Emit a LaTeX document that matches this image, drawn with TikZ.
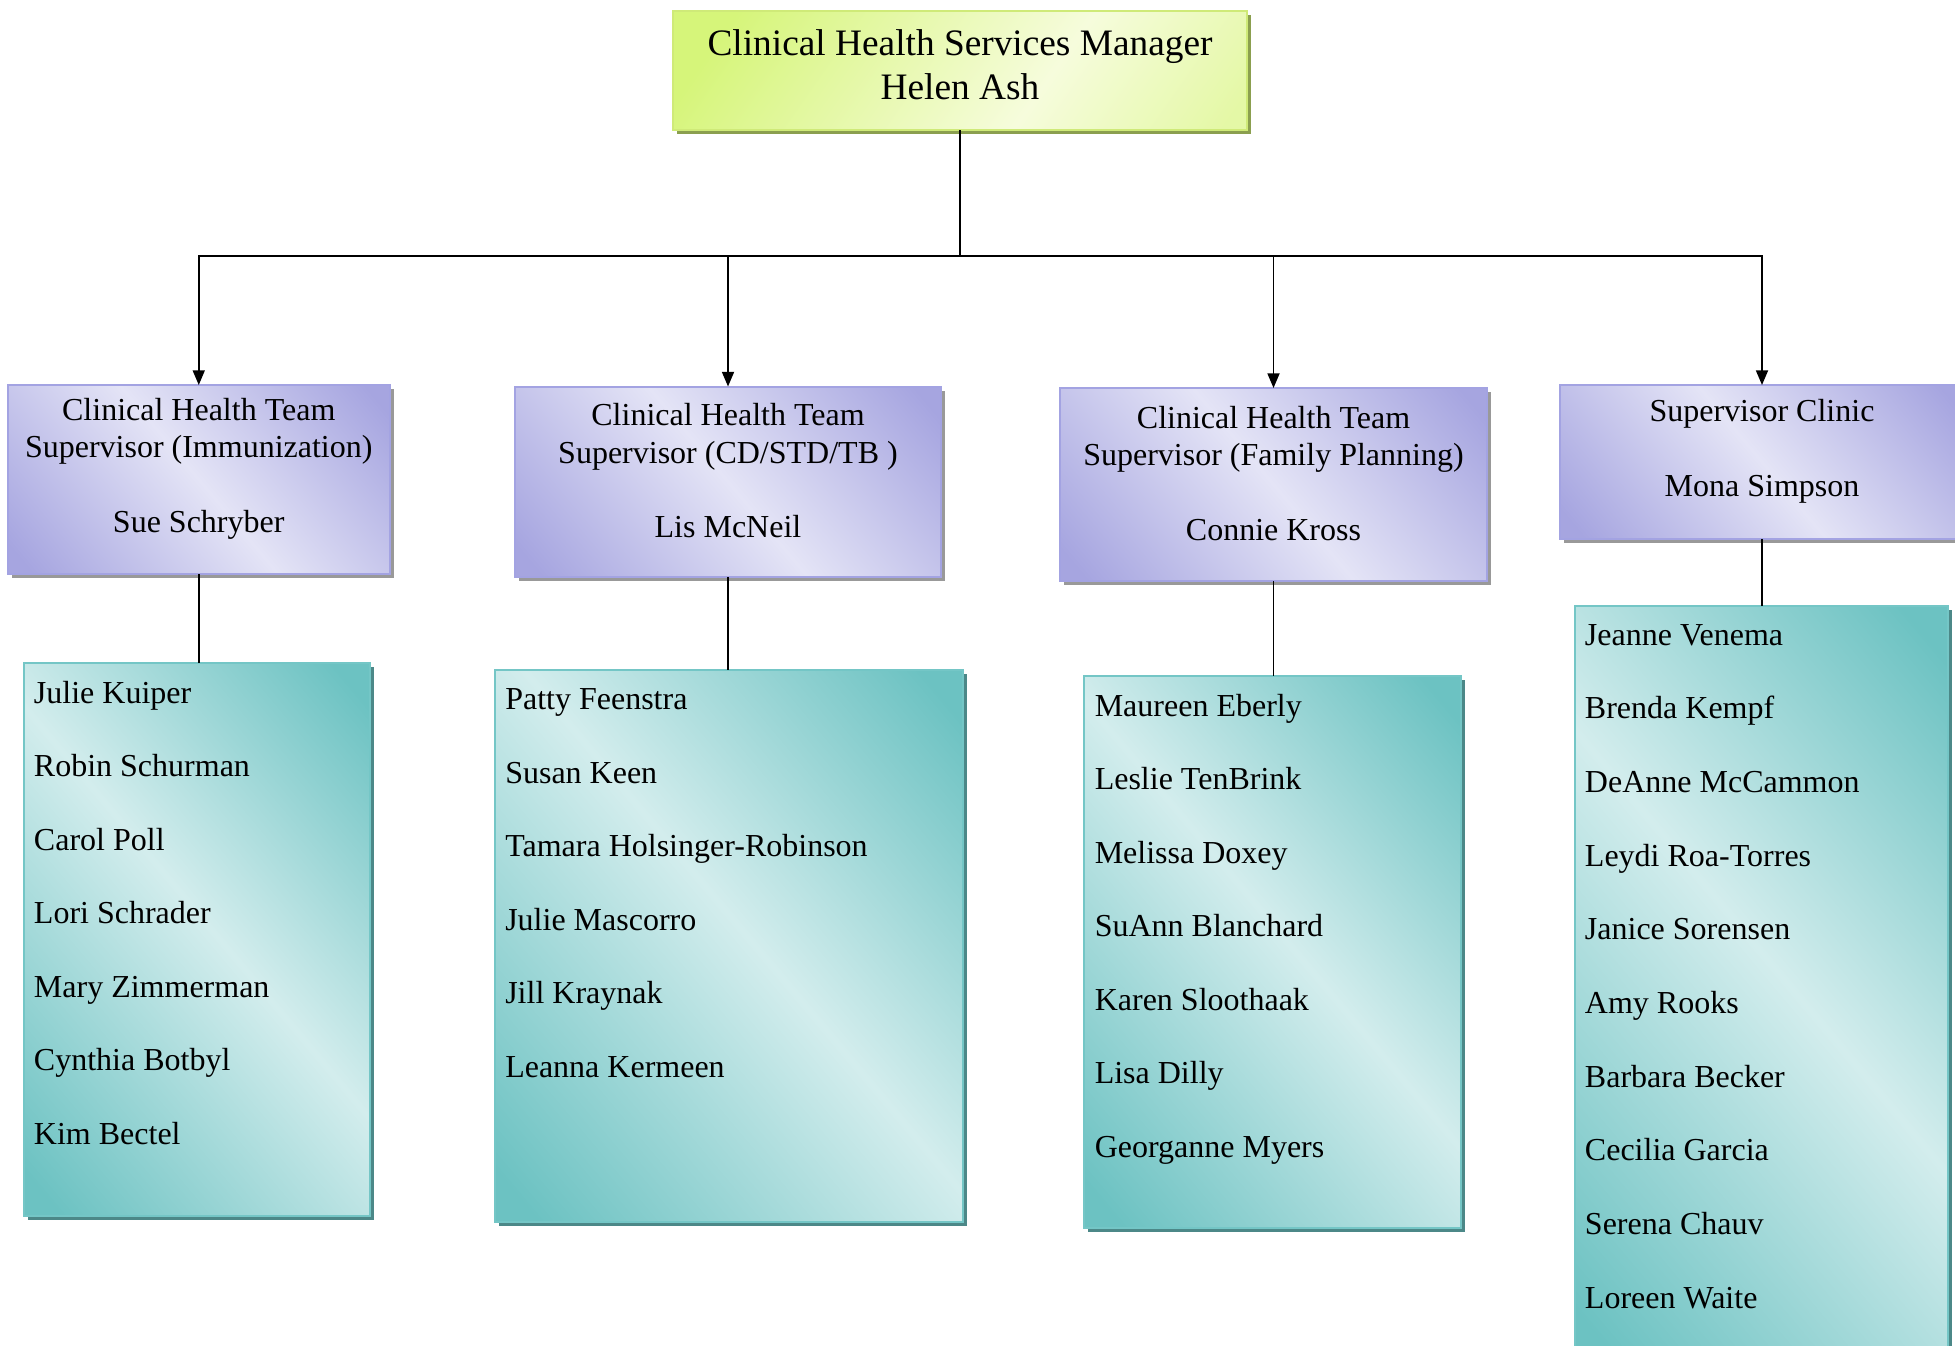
\documentclass[tikz,border=0pt]{standalone}
\usepackage{fontspec}
\setmainfont{Liberation Serif}
\usetikzlibrary{arrows.meta,calc,shadows}

\definecolor{limedark}{HTML}{D6F57A}
\definecolor{limelight}{HTML}{F6FCDC}
\definecolor{limeedge}{HTML}{CFEA78}
\definecolor{lavdark}{HTML}{A6A5E0}
\definecolor{lavlight}{HTML}{E4E4F6}
\definecolor{lavedge}{HTML}{A3A3E2}
\definecolor{tealdark}{HTML}{6CC2C2}
\definecolor{teallight}{HTML}{D3EDED}
\definecolor{tealedge}{HTML}{74C6C6}

\pgfdeclarehorizontalshading{limeband}{100bp}{color(0bp)=(limedark); color(22bp)=(limedark); color(60bp)=(limelight); color(82bp)=(limedark!55!limelight); color(100bp)=(limedark!55!limelight)}
\pgfdeclarehorizontalshading{lavband}{100bp}{color(0bp)=(lavdark); color(18bp)=(lavdark); color(50bp)=(lavlight); color(82bp)=(lavdark); color(100bp)=(lavdark)}
\pgfdeclarehorizontalshading{tealband}{100bp}{color(0bp)=(tealdark); color(18bp)=(tealdark); color(52bp)=(teallight); color(82bp)=(tealdark); color(100bp)=(tealdark)}

\begin{document}
\begin{tikzpicture}[x=0.75pt,y=0.75pt,yscale=-1,xscale=1,
    boxsize/.style 2 args={minimum width=#1*0.75pt, minimum height=#2*0.75pt},
    orgbox/.style={rectangle, anchor=north west, inner sep=0pt, outer sep=0pt, line width=1.5pt},
    mgrbox/.style={orgbox, draw=limeedge, shading=limeband, shading angle=-35,
        drop shadow={shadow xshift=3pt, shadow yshift=-3pt, fill=black!35!limedark, opacity=1}},
    supbox/.style={orgbox, draw=lavedge, shading=lavband, shading angle=40,
        drop shadow={shadow xshift=3pt, shadow yshift=-3pt, fill=black!40, opacity=1}},
    teambox/.style={orgbox, draw=tealedge, shading=tealband, shading angle=40,
        drop shadow={shadow xshift=3pt, shadow yshift=-3pt, fill=black!30!tealdark, opacity=1}},
    mgrtext/.style={align=center, inner sep=0pt, font=\fontsize{28}{32.7}\selectfont},
    suptext/.style={align=center, inner sep=0pt, font=\fontsize{24}{28}\selectfont},
    nametext/.style={anchor=base west, inner sep=0pt, font=\fontsize{24}{28}\selectfont},
    conn/.style={line width=1.3pt, -{Triangle[length=11pt,width=9pt]}},
    link/.style={line width=1.3pt}]
    \useasboundingbox (0,0) rectangle (1955,1345);

    %Shape: Rectangle [manager]
    \node [mgrbox, boxsize={574}{119}] (mgr) at (673,11) {};
    % Text Node
    \node [mgrtext] (mgr-txt) at ($(mgr.center)+(0,-6)$) {Clinical Health Services Manager\\Helen Ash};

    %Shape: Rectangle [supervisors]
    \node [supbox, boxsize={382.5}{189}] (sup1) at (7.5,385) {};
    \node [supbox, boxsize={426}{190.5}] (sup2) at (515,386.5) {};
    \node [supbox, boxsize={427}{193}] (sup3) at (1060,388) {};
    \node [supbox, boxsize={404}{154}] (sup4) at (1560,385) {};
    % Text Node
    \node [suptext] (sup1-txt) at ($(sup1.center)+(0,-11)$) {Clinical Health Team\\Supervisor (Immunization)\\[28pt]Sue Schryber};
    % Text Node
    \node [suptext] (sup2-txt) at ($(sup2.center)+(0,-11)$) {Clinical Health Team\\Supervisor (CD/STD/TB )\\[28pt]Lis McNeil};
    % Text Node
    \node [suptext] (sup3-txt) at ($(sup3.center)+(0,-11)$) {Clinical Health Team\\Supervisor (Family Planning)\\[28pt]Connie Kross};
    % Text Node
    \node [suptext] (sup4-txt) at ($(sup4.center)+(0,-11)$) {Supervisor Clinic\\[28pt]Mona Simpson};

    %Shape: Rectangle [teams]
    \node [teambox, boxsize={346.6}{553}] (team1) at (23.7,663) {};
    \node [teambox, boxsize={467.5}{552}] (team2) at (495,669.5) {};
    \node [teambox, boxsize={377.5}{552}] (team3) at (1083.5,676) {};
    \node [teambox, boxsize={373}{760}] (team4) at (1574.7,606) {};

    %Straight Lines [manager to supervisors]
    \foreach \s in {sup1,sup2,sup3,sup4}
        \draw [conn] (mgr.south) -- ++(0,126) -| (\s.north);

    %Straight Lines [supervisors to teams]
    \foreach \s/\t in {sup1/team1,sup2/team2,sup3/team3,sup4/team4}
        \draw [link] (\s.south) -- (\s.south |- \t.north);

    % Text Node [team lists]
    \foreach \who [count=\k from 0] in {Julie Kuiper,Robin Schurman,Carol Poll,Lori Schrader,Mary Zimmerman,Cynthia Botbyl,Kim Bectel}
        \node [nametext] (t1-\k) at ($(team1.north west)+(10,40+73.5*\k)$) {\who};
    \foreach \who [count=\k from 0] in {Patty Feenstra,Susan Keen,Tamara Holsinger-Robinson,Julie Mascorro,Jill Kraynak,Leanna Kermeen}
        \node [nametext] (t2-\k) at ($(team2.north west)+(10,40+73.5*\k)$) {\who};
    \foreach \who [count=\k from 0] in {Maureen Eberly,Leslie TenBrink,Melissa Doxey,SuAnn Blanchard,Karen Sloothaak,Lisa Dilly,Georganne Myers}
        \node [nametext] (t3-\k) at ($(team3.north west)+(11,40+73.5*\k)$) {\who};
    \foreach \who [count=\k from 0] in {Jeanne Venema,Brenda Kempf,DeAnne McCammon,Leydi Roa-Torres,Janice Sorensen,Amy Rooks,Barbara Becker,Cecilia Garcia,Serena Chauv,Loreen Waite}
        \node [nametext] (t4-\k) at ($(team4.north west)+(10,39+73.7*\k)$) {\who};

\end{tikzpicture}
\end{document}
